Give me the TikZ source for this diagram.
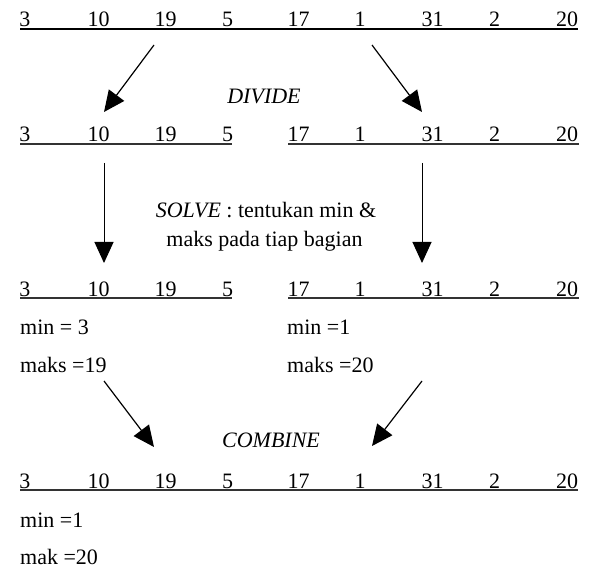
\documentclass[tikz,border=0pt]{standalone}
\usepackage{fontspec}
\setmainfont{Liberation Serif}
\usetikzlibrary{arrows.meta}
\begin{document}
\begin{tikzpicture}[x=1pt,y=-1pt,
  txt/.style={inner sep=0pt,font=\fontsize{22}{26}\selectfont},
  num/.style={txt,anchor=base},
  lbl/.style={txt,anchor=base west},
  uline/.style={line width=1.5pt,draw=black!80},
  arr/.style={line width=1.2pt,-{Triangle[length=21pt,width=19pt]}}]
\useasboundingbox (0,0) rectangle (602,585);
% numbers rows
\foreach \x/\t [count=\i] in {25/3,98.5/10,165.5/19,227.5/5,298.5/17,360/1,432.5/31,494.5/2,567/20}{
  \node[num] (a\i) at (\x,27) {\t};
  \node[num] (b\i) at (\x,142) {\t};
  \node[num] (c\i) at (\x,296) {\t};
  \node[num] (d\i) at (\x,488) {\t};
}
% underlines
\coordinate (u1a) at (20,29); \coordinate (u1b) at (578,29);
\coordinate (u2a) at (20,144); \coordinate (u2b) at (232,144);
\coordinate (u2c) at (288,144); \coordinate (u2d) at (579,144);
\coordinate (u3a) at (20,298); \coordinate (u3b) at (232,298);
\coordinate (u3c) at (288,298); \coordinate (u3d) at (579,298);
\coordinate (u4a) at (20,490); \coordinate (u4b) at (578,490);
\draw[uline,draw=black] (u1a) -- (u1b);
\draw[uline] (u2a) -- (u2b);
\draw[uline] (u2c) -- (u2d);
\draw[uline] (u3a) -- (u3b);
\draw[uline] (u3c) -- (u3d);
\draw[uline] (u4a) -- (u4b);
% labels
\node[num] (divide) at (264,104) {\textit{DIVIDE}};
\node[num] (solve1) at (266,218) {\textit{SOLVE} : tentukan min \&};
\node[num] (solve2) at (264.5,247) {maks pada tiap bagian};
\node[num] (combine) at (271,447) {\textit{COMBINE}};
\node[lbl] (minL) at (20,334) {min = 3};
\node[lbl] (maksL) at (20,372) {maks =19};
\node[lbl] (minR) at (287,334) {min =1};
\node[lbl] (maksR) at (287,372) {maks =20};
\node[lbl] (minF) at (20,527) {min =1};
\node[lbl] (maksF) at (20,564) {mak =20};
% arrows
\coordinate (d1s) at (154,45);  \coordinate (d1e) at (104,112);
\coordinate (d2s) at (372,45);  \coordinate (d2e) at (422,112);
\coordinate (s1s) at (104,163); \coordinate (s1e) at (104,263);
\coordinate (s2s) at (422,163); \coordinate (s2e) at (422,263);
\coordinate (c1s) at (104,381); \coordinate (c1e) at (154,447);
\coordinate (c2s) at (422,381); \coordinate (c2e) at (372,446);
\draw[arr] (d1s) -- (d1e);
\draw[arr] (d2s) -- (d2e);
\draw[arr,line width=1pt] (s1s) -- (s1e);
\draw[arr,line width=1pt] (s2s) -- (s2e);
\draw[arr] (c1s) -- (c1e);
\draw[arr] (c2s) -- (c2e);
\end{tikzpicture}
\end{document}
